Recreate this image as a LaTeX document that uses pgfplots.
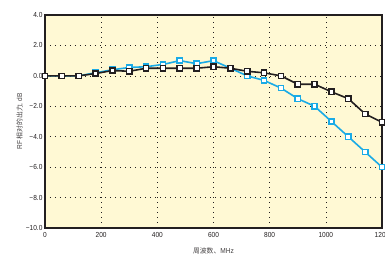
\documentclass[border=0pt]{standalone}
\usepackage{fontspec}
\setmainfont{Liberation Sans}[FakeStretch=0.9]
\newfontfamily\cjk{Noto Sans CJK SC}
\usepackage{pgfplots}
\pgfplotsset{compat=1.18}
\definecolor{bgc}{HTML}{FFF9D4}
\definecolor{cblue}{HTML}{1AABE6}
\definecolor{cblack}{HTML}{231F20}
\begin{document}
\begin{tikzpicture}[x=1pt,y=1pt]
\begin{axis}[
  scale only axis, width=337pt, height=213pt,
  xmin=0, xmax=1200, ymin=-10, ymax=4,
  xtick={0,200,...,1200},
  ytick={-10,-8,...,4},
  yticklabels={−10.0,−8.0,−6.0,−4.0,−2.0,0.0,2.0,4.0},
  /pgf/number format/assume math mode=true,
  /pgf/number format/1000 sep={},
  ticklabel style={font=\fontsize{7.3}{8}\selectfont, text=cblack},
  yticklabel style={xshift=1pt},
  xticklabel style={yshift=-1pt},
  major tick length=0pt,
  axis line style={line width=2.2pt, cblack},
  axis background/.style={fill=bgc},
  grid=major,
  major grid style={cblack, line width=0.6pt, dash pattern=on 0.6pt off 4.4pt},
  xlabel={{\cjk\fontsize{6.8}{8}\selectfont 周波数、}MHz},
  ylabel={RF {\cjk\fontsize{6.8}{8}\selectfont 相对的出力}, dB},
  label style={font=\fontsize{7.3}{8}\selectfont, text=cblack!85},
  xlabel style={yshift=-3pt},
  ylabel style={yshift=-4pt},
  clip=false,
]
\addplot[cblue, line width=1.6pt, mark=square*, mark size=2.6pt,
  mark options={fill=white, line width=1.5pt, solid}] coordinates {
(0,0) (60,0) (120,0) (180,0.2) (240,0.4) (300,0.55) (360,0.6) (420,0.75)
(480,1.0) (540,0.8) (600,1.0) (660,0.5) (720,0) (780,-0.3) (840,-0.8)
(900,-1.5) (960,-2.0) (1020,-3.0) (1080,-4.0) (1140,-5.0) (1200,-6.0)};
\addplot[cblack, line width=1.6pt, mark=square*, mark size=2.6pt,
  mark options={fill=white, line width=1.5pt, solid}] coordinates {
(0,0) (60,0) (120,0) (180,0.15) (240,0.35) (300,0.3) (360,0.5) (420,0.5)
(480,0.5) (540,0.5) (600,0.6) (660,0.5) (720,0.3) (780,0.2) (840,0)
(900,-0.55) (960,-0.55) (1020,-1.05) (1080,-1.5) (1140,-2.5) (1200,-3.05)};
\end{axis}
\pgfresetboundingbox
\useasboundingbox (-45pt,-28pt) rectangle (340pt,228pt);
\end{tikzpicture}
\end{document}
